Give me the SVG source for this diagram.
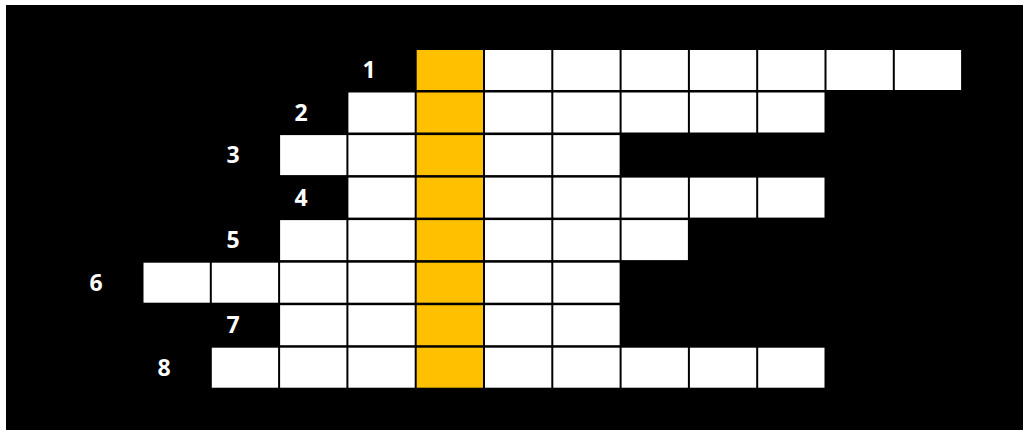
<svg xmlns="http://www.w3.org/2000/svg" width="1023" height="430" viewBox="0 0 1023 430">
<style>
.c{fill:#ffffff}
.y{fill:#ffc000}
.n{fill:#ffffff;font-family:"Open Sans","Liberation Sans",sans-serif;font-weight:bold;font-size:23px;text-anchor:middle}
</style>
<rect x="0" y="0" width="1023" height="430" fill="#ffffff"/>
<rect x="6" y="5" width="1017" height="425" fill="#000000"/>
<g id="row1">
<text class="n" x="369" y="78">1</text>
<rect class="y" x="416.7" y="50" width="66.3" height="40"/>
<rect class="c" x="485" y="50" width="66.3" height="40"/>
<rect class="c" x="553.3" y="50" width="66.3" height="40"/>
<rect class="c" x="621.6" y="50" width="66.3" height="40"/>
<rect class="c" x="689.9" y="50" width="66.3" height="40"/>
<rect class="c" x="758.2" y="50" width="66.3" height="40"/>
<rect class="c" x="826.5" y="50" width="66.3" height="40"/>
<rect class="c" x="894.8" y="50" width="66.3" height="40"/>
</g>
<g id="row2">
<text class="n" x="301" y="120.5">2</text>
<rect class="c" x="348.4" y="92.5" width="66.3" height="40"/>
<rect class="y" x="416.7" y="92.5" width="66.3" height="40"/>
<rect class="c" x="485" y="92.5" width="66.3" height="40"/>
<rect class="c" x="553.3" y="92.5" width="66.3" height="40"/>
<rect class="c" x="621.6" y="92.5" width="66.3" height="40"/>
<rect class="c" x="689.9" y="92.5" width="66.3" height="40"/>
<rect class="c" x="758.2" y="92.5" width="66.3" height="40"/>
</g>
<g id="row3">
<text class="n" x="233" y="163">3</text>
<rect class="c" x="280.1" y="135.1" width="66.3" height="40"/>
<rect class="c" x="348.4" y="135.1" width="66.3" height="40"/>
<rect class="y" x="416.7" y="135.1" width="66.3" height="40"/>
<rect class="c" x="485" y="135.1" width="66.3" height="40"/>
<rect class="c" x="553.3" y="135.1" width="66.3" height="40"/>
</g>
<g id="row4">
<text class="n" x="301" y="205.5">4</text>
<rect class="c" x="348.4" y="177.6" width="66.3" height="40"/>
<rect class="y" x="416.7" y="177.6" width="66.3" height="40"/>
<rect class="c" x="485" y="177.6" width="66.3" height="40"/>
<rect class="c" x="553.3" y="177.6" width="66.3" height="40"/>
<rect class="c" x="621.6" y="177.6" width="66.3" height="40"/>
<rect class="c" x="689.9" y="177.6" width="66.3" height="40"/>
<rect class="c" x="758.2" y="177.6" width="66.3" height="40"/>
</g>
<g id="row5">
<text class="n" x="233" y="248">5</text>
<rect class="c" x="280.1" y="220.1" width="66.3" height="40"/>
<rect class="c" x="348.4" y="220.1" width="66.3" height="40"/>
<rect class="y" x="416.7" y="220.1" width="66.3" height="40"/>
<rect class="c" x="485" y="220.1" width="66.3" height="40"/>
<rect class="c" x="553.3" y="220.1" width="66.3" height="40"/>
<rect class="c" x="621.6" y="220.1" width="66.3" height="40"/>
</g>
<g id="row6">
<text class="n" x="96" y="290.5">6</text>
<rect class="c" x="143.5" y="262.7" width="66.3" height="40"/>
<rect class="c" x="211.8" y="262.7" width="66.3" height="40"/>
<rect class="c" x="280.1" y="262.7" width="66.3" height="40"/>
<rect class="c" x="348.4" y="262.7" width="66.3" height="40"/>
<rect class="y" x="416.7" y="262.7" width="66.3" height="40"/>
<rect class="c" x="485" y="262.7" width="66.3" height="40"/>
<rect class="c" x="553.3" y="262.7" width="66.3" height="40"/>
</g>
<g id="row7">
<text class="n" x="233" y="333">7</text>
<rect class="c" x="280.1" y="305.2" width="66.3" height="40"/>
<rect class="c" x="348.4" y="305.2" width="66.3" height="40"/>
<rect class="y" x="416.7" y="305.2" width="66.3" height="40"/>
<rect class="c" x="485" y="305.2" width="66.3" height="40"/>
<rect class="c" x="553.3" y="305.2" width="66.3" height="40"/>
</g>
<g id="row8">
<text class="n" x="164" y="375.5">8</text>
<rect class="c" x="211.8" y="347.7" width="66.3" height="40"/>
<rect class="c" x="280.1" y="347.7" width="66.3" height="40"/>
<rect class="c" x="348.4" y="347.7" width="66.3" height="40"/>
<rect class="y" x="416.7" y="347.7" width="66.3" height="40"/>
<rect class="c" x="485" y="347.7" width="66.3" height="40"/>
<rect class="c" x="553.3" y="347.7" width="66.3" height="40"/>
<rect class="c" x="621.6" y="347.7" width="66.3" height="40"/>
<rect class="c" x="689.9" y="347.7" width="66.3" height="40"/>
<rect class="c" x="758.2" y="347.7" width="66.3" height="40"/>
</g>
<g id="connectors"/>
</svg>
